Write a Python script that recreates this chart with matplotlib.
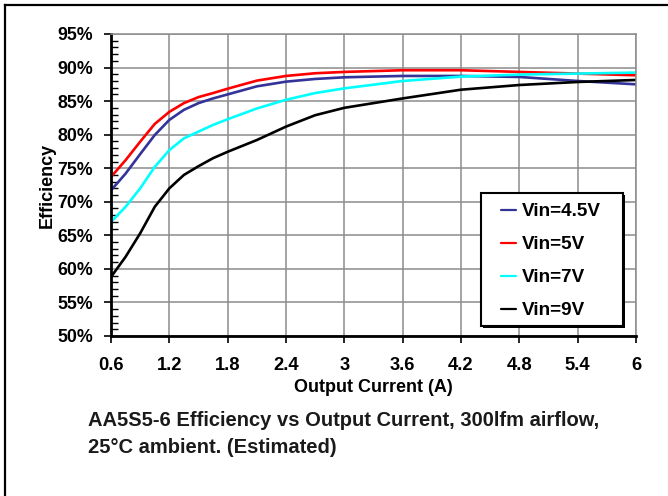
import matplotlib
matplotlib.use("Agg")
import matplotlib.pyplot as plt
from matplotlib.ticker import MultipleLocator
from matplotlib.lines import Line2D
from matplotlib.patches import Rectangle

current = [0.6, 0.75, 0.9, 1.05, 1.2, 1.35, 1.5, 1.65, 1.8, 2.1, 2.4, 2.7, 3.0, 3.6, 4.2, 4.8, 5.4, 6.0]
eff_45 = [71.7, 74.2, 77.1, 79.95, 82.2, 83.7, 84.7, 85.4, 86.0, 87.2, 87.9, 88.3, 88.55, 88.75, 88.75, 88.6, 88.0, 87.5]
eff_5 = [73.7, 76.2, 78.95, 81.6, 83.4, 84.7, 85.6, 86.2, 86.85, 88.05, 88.75, 89.15, 89.35, 89.6, 89.6, 89.35, 89.1, 88.85]
eff_7 = [67.0, 69.25, 72.0, 75.2, 77.7, 79.45, 80.45, 81.45, 82.3, 83.9, 85.2, 86.2, 86.9, 88.0, 88.65, 88.95, 89.1, 89.25]
eff_9 = [58.8, 61.8, 65.3, 69.25, 72.0, 74.0, 75.3, 76.5, 77.45, 79.2, 81.2, 82.9, 84.0, 85.4, 86.7, 87.4, 87.85, 88.15]
labels = ["Vin=4.5V", "Vin=5V", "Vin=7V", "Vin=9V"]
colors = ["#333399", "#ff0000", "#00ffff", "#000000"]
xticks = [0.6, 1.2, 1.8, 2.4, 3, 3.6, 4.2, 4.8, 5.4, 6]
xticklabels = ["0.6", "1.2", "1.8", "2.4", "3", "3.6", "4.2", "4.8", "5.4", "6"]
yticks = [50, 55, 60, 65, 70, 75, 80, 85, 90, 95]
yticklabels = [f"{v}%" for v in yticks]

plt.rcParams['font.family'] = ['Liberation Sans', 'DejaVu Sans']

fig = plt.figure(figsize=(6.68, 4.96), dpi=100)
W, H = 668, 496
ax = fig.add_axes([111 / W, 1 - 336 / H, (636 - 111) / W, (336 - 34) / H])

for ys, lab, c in zip([eff_45, eff_5, eff_7, eff_9], labels, colors):
    ax.plot(current, ys, color=c, lw=1.9, label=lab, solid_capstyle='round', solid_joinstyle='round')

ax.set_xlim(0.6, 6)
ax.set_ylim(50, 95)
ax.set_xticks(xticks)
ax.set_xticklabels(xticklabels, fontsize=13.2, fontweight='bold')
ax.set_yticks(yticks)
ax.set_yticklabels(yticklabels, fontsize=12.8, fontweight='bold')
ax.yaxis.set_minor_locator(MultipleLocator(1))
ax.tick_params(axis='y', which='major', direction='out', length=5, width=1.2, pad=8)
ax.tick_params(axis='y', which='minor', direction='in', length=5, width=1)
ax.tick_params(axis='x', which='major', direction='out', length=5, width=1.2, pad=10)
ax.grid(True, which='major', color='#8c8c8c', lw=1.1)
ax.set_axisbelow(True)
for s in ['left', 'bottom']:
    ax.spines[s].set_linewidth(2)
    ax.spines[s].set_color('black')
for s in ['top', 'right']:
    ax.spines[s].set_linewidth(1.1)
    ax.spines[s].set_color('#8c8c8c')

ax.set_xlabel("Output Current (A)", fontsize=13, fontweight='bold', labelpad=4)
ax.set_ylabel("Efficiency", fontsize=13, fontweight='bold', labelpad=1)

# legend box (frame + shadow) in figure pixel coordinates
bx0, bx1, by0, by1 = 481, 623, 193, 326
sh = 2
fig.add_artist(Rectangle(((bx0 + sh) / W, 1 - (by1 + sh) / H), (bx1 - bx0) / W, (by1 - by0) / H,
                         transform=fig.transFigure, facecolor='black', edgecolor='none', zorder=5))
fig.add_artist(Rectangle((bx0 / W, 1 - by1 / H), (bx1 - bx0) / W, (by1 - by0) / H,
                         transform=fig.transFigure, facecolor='white', edgecolor='black',
                         lw=1.5, zorder=6))

leg = fig.legend(*ax.get_legend_handles_labels(), loc='upper left',
                 bbox_to_anchor=(501 / W, 1 - 203 / H), bbox_transform=fig.transFigure,
                 frameon=False, prop={'weight': 'bold', 'size': 13.6},
                 handlelength=0.82, handletextpad=0.27, labelspacing=0.84,
                 borderpad=0, borderaxespad=0)
leg.set_zorder(7)
for h in leg.get_lines():
    h.set_linewidth(1.6)

fig.text(88 / W, 1 - 426 / H, "AA5S5-6 Efficiency vs Output Current, 300lfm airflow,",
         fontweight='bold', fontsize=14.5, color='#1a1a1a', va='baseline')
fig.text(88 / W, 1 - 453 / H, "25°C ambient. (Estimated)",
         fontweight='bold', fontsize=14.5, color='#1a1a1a', va='baseline')

fig.add_artist(Line2D([5 / W, 5 / W], [0, 1 - 5 / H], transform=fig.transFigure, color='black', lw=1.6))
fig.add_artist(Line2D([5 / W, 1], [1 - 5 / H, 1 - 5 / H], transform=fig.transFigure, color='black', lw=1.6))

fig.savefig("out.png", dpi=100)
